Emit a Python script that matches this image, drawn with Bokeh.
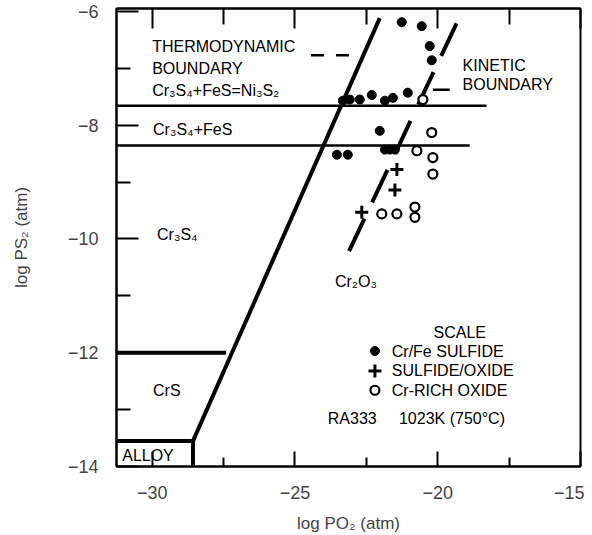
from bokeh.plotting import figure
from bokeh.models import Range1d, LinearAxis, FixedTicker, ColumnDataSource
from bokeh.core.properties import value
from bokeh.embed import file_html
from bokeh.resources import INLINE

FONT = "Liberation Sans"

# ---- axis ticks ----
x_major = [-30, -25, -20, -15]
x_minor = [-27.5, -22.5, -17.5]
y_major = [-6, -8, -10, -12, -14]
y_minor = [-7, -9, -11, -13]

# ---- phase boundaries (log pO2, log pS2) ----
thermo_x = [-28.57, -22.03]
thermo_y = [-13.55, -6.12]
ni_line_x = [-31.25, -18.29]
ni_line_y = [-7.66, -7.66]
fes_line_x = [-31.25, -18.88]
fes_line_y = [-8.36, -8.36]
crs_line_x = [-31.25, -27.41]
crs_line_y = [-12.0, -12.0]
alloy_line_x = [-31.25, -28.57, -28.57]
alloy_line_y = [-13.55, -13.55, -14.0]
kinetic_x = [-19.34, -23.25]
kinetic_y = [-6.21, -10.37]
thermo_leader_x = [-24.44, -23.08]
thermo_leader_y = [-6.77, -6.77]
kinetic_leader_x = [-20.17, -19.58]
kinetic_leader_y = [-7.38, -7.38]

# ---- measured scale compositions ----
sulfide_x = [-21.26, -20.56, -20.28, -20.21, -23.32, -23.08, -22.73, -22.31,
             -21.85, -21.57, -21.05, -22.03, -23.53, -23.15, -21.85, -21.68, -21.50]
sulfide_y = [-6.19, -6.26, -6.61, -6.86, -7.57, -7.55, -7.55, -7.47,
             -7.57, -7.52, -7.43, -8.10, -8.52, -8.52, -8.43, -8.43, -8.43]
mixed_x = [-21.43, -21.50, -22.66]
mixed_y = [-8.78, -9.14, -9.53]
oxide_x = [-20.52, -20.21, -20.73, -20.17, -20.17, -21.96, -21.43, -20.80, -20.80]
oxide_y = [-7.55, -8.13, -8.45, -8.57, -8.86, -9.56, -9.56, -9.44, -9.62]

# ---- region labels ----
label_text = ["THERMODYNAMIC", "BOUNDARY", "Cr₃S₄+FeS=Ni₃S₂", "Cr₃S₄+FeS",
              "Cr₃S₄", "CrS", "ALLOY", "KINETIC", "BOUNDARY", "Cr₂O₃",
              "RA333\u00a0\u00a0\u00a0\u00a0\u00a01023K (750°C)"]
label_x = [-30.0, -30.0, -30.0, -29.97, -29.83, -29.97, -31.05, -19.13, -19.13, -23.6, -23.85]
label_y = [-6.61, -7.0, -7.40, -8.08, -9.93, -12.66, -13.81, -6.96, -7.29, -10.75, -13.16]

legend_title = "SCALE"
legend_title_x = -19.23
legend_title_y = -11.64
legend_names = ["Cr/Fe SULFIDE", "SULFIDE/OXIDE", "Cr-RICH OXIDE"]
legend_marker_x = -22.2
legend_text_x = -21.61
legend_y = [-11.97, -12.32, -12.66]

p = figure(width=584, height=535,
           x_range=Range1d(-31.25, -15), y_range=Range1d(-14, -5.95),
           output_backend="svg", toolbar_location=None,
           min_border_left=116, min_border_right=4,
           min_border_top=8, min_border_bottom=69)
p.grid.visible = False
p.outline_line_color = "black"
p.outline_line_width = 2
p.background_fill_color = "white"
p.border_fill_color = "white"

def style_axis(ax, major_in, minor_in):
    ax.axis_line_width = 2
    ax.axis_line_color = "black"
    ax.major_tick_in = major_in
    ax.major_tick_out = 0
    ax.minor_tick_in = minor_in
    ax.minor_tick_out = 0
    ax.major_tick_line_width = 2
    ax.minor_tick_line_width = 2
    ax.major_label_text_font = FONT
    ax.axis_label_text_font = FONT
    ax.axis_label_text_font_style = "normal"

xa = p.xaxis[0]
xa.ticker = FixedTicker(ticks=x_major, minor_ticks=x_minor)
style_axis(xa, 15, 9)
xa.major_label_text_font_size = "18px"
xa.major_label_standoff = 19
xa.axis_label = "log PO₂ (atm)"
xa.axis_label_text_font_size = "17px"
xa.axis_label_standoff = 12

ya = p.yaxis[0]
ya.ticker = FixedTicker(ticks=y_major, minor_ticks=y_minor)
style_axis(ya, 22, 14)
ya.major_label_text_font_size = "18px"
ya.major_label_standoff = 18
ya.axis_label = "log PS₂ (atm)"
ya.axis_label_text_font_size = "17px"
ya.axis_label_standoff = 34

top = LinearAxis(ticker=FixedTicker(ticks=x_major, minor_ticks=x_minor))
style_axis(top, 20, 16)
top.major_label_overrides = {t: "" for t in x_major}
top.major_label_standoff = 0
p.add_layout(top, "above")

# boundaries
p.line(thermo_x, thermo_y, line_width=4, color="black")
p.line(ni_line_x, ni_line_y, line_width=2.5, color="black")
p.line(fes_line_x, fes_line_y, line_width=2.5, color="black")
p.line(crs_line_x, crs_line_y, line_width=4, color="black")
p.line(alloy_line_x, alloy_line_y, line_width=4, color="black")
p.line(kinetic_x, kinetic_y, line_width=4, color="black", line_dash="36 18")
p.line(thermo_leader_x, thermo_leader_y, line_width=2.5, color="black", line_dash="13 12")
p.line(kinetic_leader_x, kinetic_leader_y, line_width=2.5, color="black")

# data points
p.scatter(sulfide_x, sulfide_y, marker="circle", size=9, color="black")
p.scatter(mixed_x, mixed_y, marker="cross", size=13, line_width=3, color="black")
p.scatter(oxide_x, oxide_y, marker="circle", size=9, line_width=2.2,
          line_color="black", fill_color="white")

# labels
src = ColumnDataSource(dict(x=label_x, y=label_y, t=label_text))
p.text(x="x", y="y", text="t", source=src, text_font=value(FONT),
       text_font_size="16px", text_baseline="middle", text_align="left",
       text_color="black")

p.text(x=[legend_title_x], y=[legend_title_y], text=[legend_title],
       text_font=value(FONT), text_font_size="16px", text_baseline="middle",
       text_align="center", text_color="black")
p.text(x=[legend_text_x] * 3, y=legend_y, text=legend_names,
       text_font=value(FONT), text_font_size="16px", text_baseline="middle",
       text_align="left", text_color="black")
p.scatter([legend_marker_x], [legend_y[0]], marker="circle", size=9, color="black")
p.scatter([legend_marker_x], [legend_y[1]], marker="cross", size=13, line_width=3, color="black")
p.scatter([legend_marker_x], [legend_y[2]], marker="circle", size=9, line_width=2.2,
          line_color="black", fill_color="white")

open("out.html", "w").write(file_html(p, INLINE))
